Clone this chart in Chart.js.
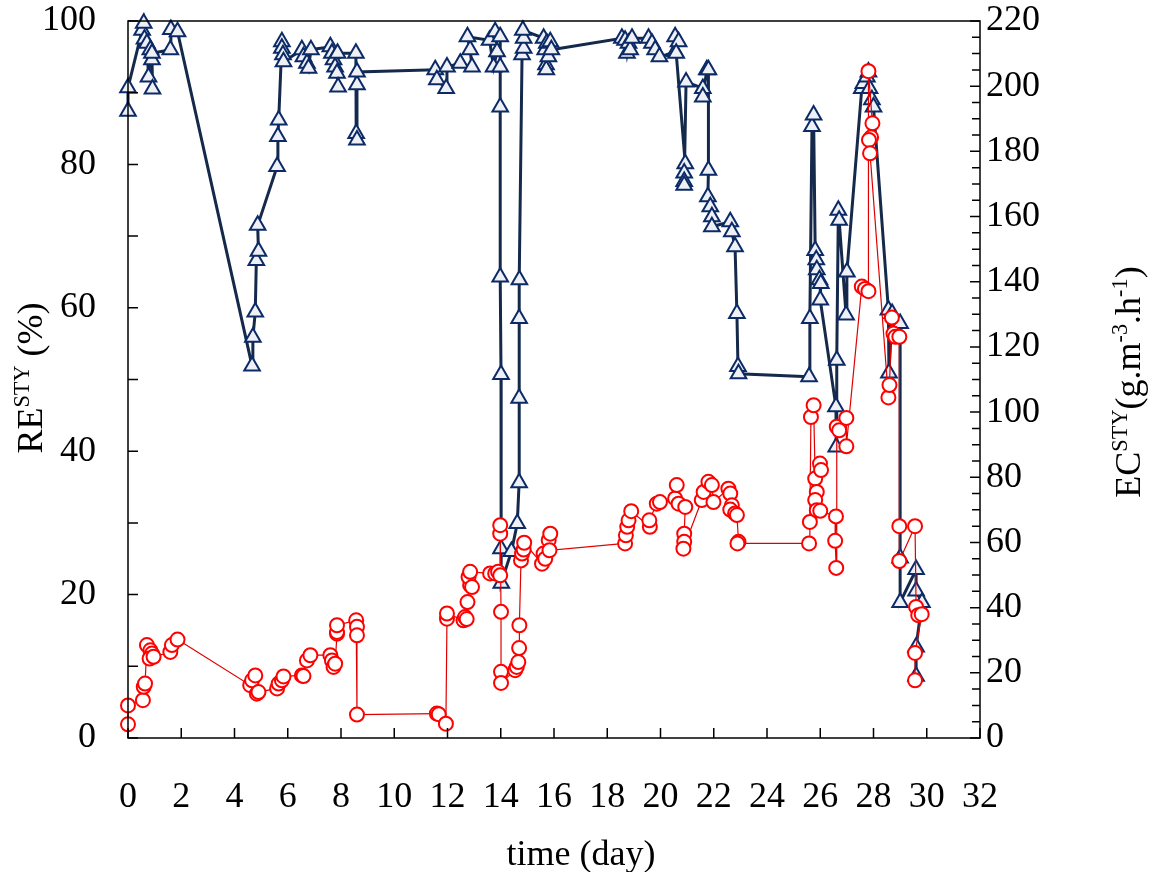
<!DOCTYPE html>
<html>
<head>
<meta charset="utf-8">
<script src="https://cdn.jsdelivr.net/npm/chart.js@4"></script>
<style>
  html, body { margin: 0; padding: 0; background: #fff; }
</style>
</head>
<body>
<canvas id="chart" width="1152" height="872"></canvas>
<script>
// RE (removal efficiency, %) - left axis
const reDays = [0.00, 0.00, 0.53, 0.59, 0.62, 0.71, 0.77, 0.84, 0.90, 0.92, 0.90, 1.59, 1.61, 1.86,
  4.66, 4.69, 4.78, 4.82, 4.90, 4.87, 5.60, 5.63, 5.66, 5.78, 5.78, 5.82, 5.84,
  6.53, 6.59, 6.72, 6.78, 6.87, 7.60, 7.66, 7.72, 7.78, 7.85, 7.89, 7.87,
  8.56, 8.57, 8.60, 8.60, 8.60, 11.54, 11.60, 11.95, 11.98, 12.48, 12.92, 12.85, 12.75,
  13.58, 13.73, 13.86, 13.79, 13.98, 13.98, 13.98, 13.98, 14.01, 14.01, 14.02, 14.40, 14.62,
  14.69, 14.69, 14.69, 14.70, 14.80, 14.86, 14.86, 14.83,
  15.61, 15.67, 15.70, 15.71, 15.79, 15.73, 15.86, 15.90,
  18.55, 18.67, 18.74, 18.80, 18.86, 18.93, 19.55, 19.68, 19.80, 19.96,
  20.55, 20.55, 20.68, 20.59, 20.93, 20.89, 20.89, 20.89, 20.96,
  21.59, 21.59, 21.74, 21.80, 21.80, 21.78, 21.87, 21.93, 21.93,
  22.62, 22.68, 22.80, 22.87, 22.91, 22.93, 25.58, 25.61, 25.69, 25.75,
  25.81, 25.85, 25.87, 25.97, 26.02, 26.00, 26.59, 26.60, 26.62, 26.68, 26.71, 26.97, 27.00,
  27.56, 27.62, 27.75, 27.81, 27.85, 27.94, 28.00, 28.56, 28.58, 28.70, 29.00, 29.00, 29.00,
  29.60, 29.60, 29.82, 29.60, 29.60];
const reValues = [87.4, 90.7, 98.7, 99.7, 97.5, 96.9, 92.2, 96.0, 94.6, 90.5, 95.5, 96.0, 98.8, 98.5,
  51.9, 55.9, 59.4, 66.6, 67.9, 71.5, 79.7, 83.9, 86.2, 97.1, 96.2, 95.3, 94.3,
  96.0, 95.0, 94.1, 93.4, 96.0, 96.4, 95.5, 94.6, 93.6, 92.7, 90.8, 95.5,
  95.5, 84.3, 83.4, 91.1, 92.9, 93.2, 91.8, 90.6, 93.6, 94.1, 93.6, 96.0, 97.8,
  97.3, 93.6, 95.7, 98.5, 97.8, 93.6, 88.0, 64.3, 50.7, 26.4, 21.6, 26.0, 29.9,
  35.6, 47.4, 58.5, 63.9, 95.3, 96.2, 97.6, 98.7,
  97.6, 96.0, 93.9, 93.2, 95.0, 96.9, 97.1, 96.0,
  97.6, 97.3, 95.5, 96.9, 96.0, 97.6, 97.6, 96.9, 96.0, 95.0,
  95.7, 97.8, 97.1, 95.5, 80.1, 78.8, 77.6, 77.1, 91.5,
  90.6, 89.4, 93.2, 93.2, 79.2, 75.5, 74.1, 72.7, 71.3,
  72.0, 70.6, 68.5, 59.2, 51.8, 50.8, 50.4, 58.5, 85.3, 86.9,
  68.0, 66.7, 65.3, 63.9, 63.4, 61.1, 46.2, 40.6, 52.7, 73.6, 72.2, 59.0, 65.0,
  90.6, 91.3, 92.2, 92.9, 90.6, 89.0, 88.0, 59.7, 50.9, 59.2, 57.8, 25.1, 18.9,
  23.5, 20.5, 18.9, 12.7, 8.6];

// EC (elimination capacity, g.m-3.h-1) - right axis
const ecDays = [0.00, 0.00, 0.56, 0.59, 0.64, 0.71, 0.84, 0.90, 0.81, 0.96, 1.59, 1.65, 1.86,
  4.59, 4.66, 4.78, 4.84, 4.90, 5.60, 5.66, 5.78, 5.84, 6.53, 6.59, 6.72, 6.85,
  7.60, 7.66, 7.72, 7.78, 7.85, 7.85, 7.85, 8.57, 8.60, 8.60, 8.60,
  11.60, 11.67, 11.94, 11.98, 11.98, 12.60, 12.66, 12.72, 12.75, 12.85, 12.79, 12.92, 12.85,
  13.60, 13.79, 13.90, 13.98, 13.98, 13.98, 14.01, 14.01, 14.01,
  14.54, 14.60, 14.66, 14.69, 14.70, 14.76, 14.80, 14.86, 14.88,
  15.55, 15.61, 15.67, 15.80, 15.86, 15.83,
  18.67, 18.70, 18.75, 18.80, 18.90, 19.60, 19.58, 19.86, 19.98,
  20.55, 20.61, 20.68, 20.93, 20.89, 20.89, 20.86,
  21.55, 21.62, 21.80, 21.93, 21.99, 22.55, 22.62, 22.68, 22.62, 22.80, 22.87, 22.93, 22.89,
  25.58, 25.61, 25.65, 25.75, 25.81, 25.87, 25.81, 25.99, 26.03, 25.87, 26.00,
  26.59, 26.56, 26.60, 26.62, 26.71, 26.98, 26.98,
  27.56, 27.68, 27.81, 27.81, 27.96, 27.91, 27.83, 27.87,
  28.56, 28.60, 28.69, 28.75, 28.82, 28.97, 28.97, 28.97,
  29.56, 29.60, 29.68, 29.81, 29.56, 29.56];
const ecValues = [4.2, 10.0, 11.6, 15.7, 16.7, 28.5, 26.9, 25.9, 24.4, 24.9, 26.4, 28.5, 30.2,
  16.2, 17.7, 19.2, 13.6, 14.1, 15.2, 16.7, 17.7, 18.9, 19.2, 19.0, 23.8, 25.4,
  25.4, 23.8, 21.8, 22.8, 32.0, 32.5, 34.6, 36.1, 34.1, 31.5, 7.2,
  7.5, 7.3, 4.4, 36.6, 38.2, 36.1, 37.1, 36.5, 41.7, 46.9, 49.4, 46.3, 51.0,
  50.5, 50.5, 51.0, 49.9, 62.7, 65.3, 38.7, 20.3, 16.9,
  20.8, 21.8, 23.3, 27.6, 34.6, 54.5, 56.6, 57.8, 59.9,
  53.5, 56.6, 55.0, 60.7, 62.7, 57.6,
  59.7, 62.2, 64.8, 66.8, 69.6, 64.8, 66.8, 71.9, 72.4,
  73.5, 77.6, 71.9, 70.9, 62.7, 60.2, 58.1,
  73.0, 75.5, 78.6, 77.6, 72.4, 76.5, 75.0, 71.4, 70.1, 68.9, 68.4, 60.2, 59.7,
  59.7, 66.3, 98.5, 102.1, 79.6, 75.5, 73.0, 84.2, 82.2, 69.9, 69.7,
  68.0, 60.5, 52.2, 95.5, 94.4, 98.2, 89.5,
  138.5, 137.8, 137.1, 204.6, 188.6, 184.3, 183.5, 179.4,
  104.5, 108.3, 129.0, 124.1, 123.1, 123.1, 65.0, 54.3,
  65.0, 40.2, 37.7, 38.0, 26.1, 17.7];

// axis ranges and tick steps
const xRange = [0, 32];
const reRange = [0, 100];
const ecRange = [0, 220];
const xTickStep = 2;
const reTickStep = 20;
const ecTickStep = 20;

const serif = '"Liberation Serif", "Times New Roman", serif';
const tickFont = { family: serif, size: 36 };

// draws a line of text with superscript parts, centred on (cx, cy)
function drawRich(ctx, parts, cx, cy, angle, size) {
  const fontFor = sup => (sup ? size * 0.62 : size) + 'px ' + serif;
  let total = 0;
  parts.forEach(p => { ctx.font = fontFor(p[1]); total += ctx.measureText(p[0]).width; });
  ctx.save();
  ctx.translate(cx, cy);
  ctx.rotate(angle);
  ctx.fillStyle = '#000';
  ctx.textAlign = 'left';
  ctx.textBaseline = 'alphabetic';
  let x = -total / 2;
  parts.forEach(p => {
    ctx.font = fontFor(p[1]);
    ctx.fillText(p[0], x, size * 0.33 - (p[1] ? size * 0.36 : 0));
    x += ctx.measureText(p[0]).width;
  });
  ctx.restore();
}

const axisDecor = {
  id: 'axisDecor',
  afterDraw(chart) {
    const ctx = chart.ctx;
    const a = chart.chartArea;
    const sx = chart.scales.x, sy = chart.scales.y, sy1 = chart.scales.y1;
    ctx.save();
    ctx.strokeStyle = '#000';
    ctx.lineWidth = 1.5;
    ctx.strokeRect(a.left, a.top, a.right - a.left, a.bottom - a.top);

    // inward tick marks
    ctx.beginPath();
    for (let v = xRange[0]; v <= xRange[1]; v += 2) {
      const px = sx.getPixelForValue(v);
      ctx.moveTo(px, a.bottom); ctx.lineTo(px, a.bottom - 10);
    }
    for (let v = reRange[0]; v <= reRange[1]; v += 10) {
      const py = sy.getPixelForValue(v);
      ctx.moveTo(a.left, py); ctx.lineTo(a.left + 10, py);
    }
    for (let v = ecRange[0]; v <= ecRange[1]; v += 5) {
      const py = sy1.getPixelForValue(v);
      ctx.moveTo(a.right, py); ctx.lineTo(a.right - (v % 20 === 0 ? 10 : 8), py);
    }
    ctx.stroke();
    ctx.restore();

    // axis titles
    drawRich(ctx, [['time (day)', false]], 581, 853, 0, 36);
    drawRich(ctx, [['RE', false], ['STY', true], [' (%)', false]], 30, 378, -Math.PI / 2, 36);
    drawRich(ctx, [['EC', false], ['STY', true], ['(g.m', false], ['-3', true],
      ['.h', false], ['-1', true], [')', false]], 1128, 382, -Math.PI / 2, 36);
  }
};

// keep the plot box fixed: no extra room for half labels at the ends
function noEndPadding(s) {
  s.paddingTop = 0; s.paddingBottom = 0; s.paddingLeft = 0; s.paddingRight = 0;
}

new Chart(document.getElementById('chart'), {
  type: 'scatter',
  data: {
    datasets: [
      {
        label: 'EC',
        data: ecDays.map((d, i) => ({ x: d, y: ecValues[i] })),
        yAxisID: 'y1',
        showLine: true,
        clip: false,
        borderColor: '#e00000',
        borderWidth: 1.2,
        pointStyle: 'circle',
        pointRadius: 7,
        pointBorderWidth: 2,
        pointBorderColor: '#ff0000',
        pointBackgroundColor: '#ffffff',
        order: 0
      },
      {
        label: 'RE',
        data: reDays.map((d, i) => ({ x: d, y: reValues[i] })),
        yAxisID: 'y',
        showLine: true,
        clip: false,
        borderColor: '#15294b',
        borderWidth: 3,
        pointStyle: 'triangle',
        pointRadius: 9,
        pointBorderWidth: 2,
        pointBorderColor: '#0b2a66',
        pointBackgroundColor: '#eef0f5',
        order: 1
      }
    ]
  },
  options: {
    responsive: false,
    animation: false,
    devicePixelRatio: 1,
    layout: { padding: { top: 21, left: 0, right: 0, bottom: 0 } },
    plugins: { legend: { display: false }, tooltip: { enabled: false } },
    scales: {
      x: {
        type: 'linear', min: xRange[0], max: xRange[1],
        afterFit(s) { s.height = 134; noEndPadding(s); },
        ticks: { stepSize: xTickStep, padding: 38, color: '#000', font: tickFont, autoSkip: false, maxRotation: 0 },
        grid: { display: false, drawTicks: false },
        border: { display: false }
      },
      y: {
        position: 'left', min: reRange[0], max: reRange[1],
        afterFit(s) { s.width = 128; noEndPadding(s); },
        ticks: { stepSize: reTickStep, padding: 32, color: '#000', font: tickFont },
        grid: { display: false, drawTicks: false },
        border: { display: false }
      },
      y1: {
        position: 'right', min: ecRange[0], max: ecRange[1],
        afterFit(s) { s.width = 172; noEndPadding(s); },
        ticks: { stepSize: ecTickStep, padding: 6, color: '#000', font: tickFont },
        grid: { display: false, drawTicks: false },
        border: { display: false }
      }
    }
  },
  plugins: [axisDecor]
});
</script>
</body>
</html>
